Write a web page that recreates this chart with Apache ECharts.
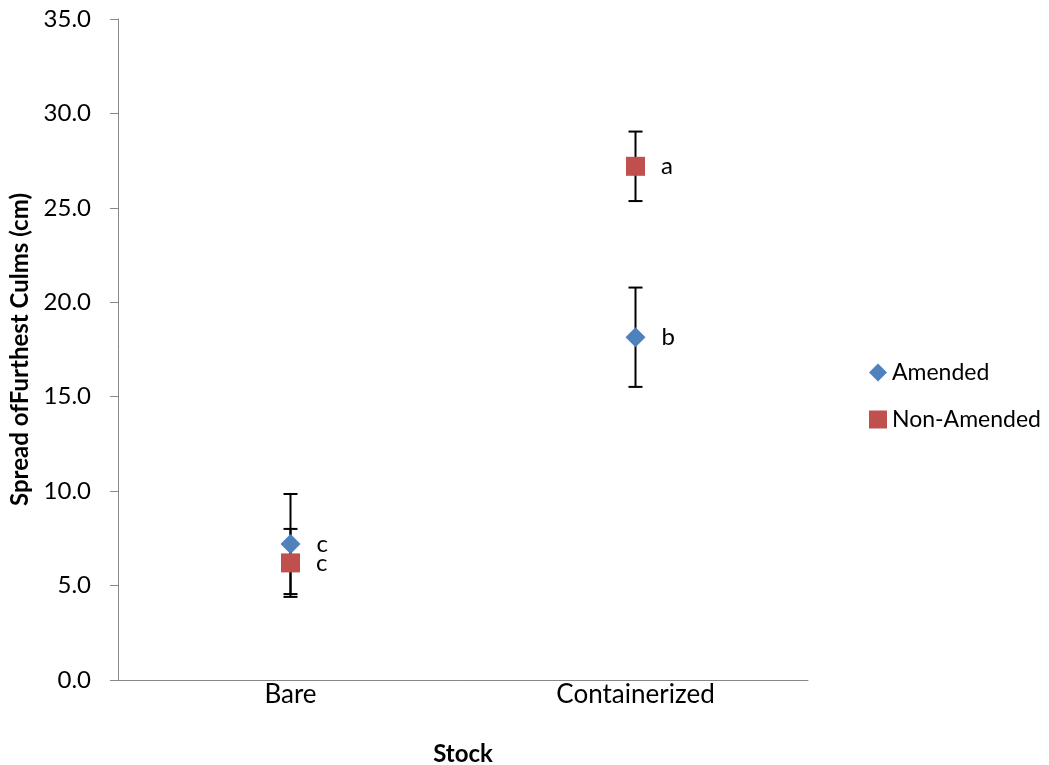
<!DOCTYPE html>
<html><head><meta charset="utf-8">
<script src="https://cdn.jsdelivr.net/npm/echarts@6/dist/echarts.min.js"></script>
<style>html,body{margin:0;padding:0;background:#fff}#c{width:1049px;height:765px}</style>
</head><body><div id="c"></div>
<script>
var categories = ['Bare', 'Containerized'];
var amended = [7.2, 18.15];
var amendedErr = [2.65, 2.63];
var amendedLetters = ['c', 'b'];
var nonAmended = [6.2, 27.2];
var nonAmendedErr = [1.8, 1.84];
var nonAmendedLetters = ['c', 'a'];
var yTicks = {min: 0, max: 35, interval: 5};

var FONT = 'Lato, "Open Sans", sans-serif';

function errData(vals, errs) {
  return vals.map(function (v, i) { return [i, v - errs[i], v + errs[i]]; });
}
function renderErr(params, api) {
  var x = api.value(0);
  var lo = api.coord([x, api.value(1)]);
  var hi = api.coord([x, api.value(2)]);
  var w = 7;
  var st = {stroke: '#000', lineWidth: 2};
  return {type: 'group', children: [
    {type: 'line', shape: {x1: lo[0], y1: lo[1], x2: hi[0], y2: hi[1]}, style: st},
    {type: 'line', shape: {x1: lo[0] - w, y1: lo[1], x2: lo[0] + w, y2: lo[1]}, style: st},
    {type: 'line', shape: {x1: hi[0] - w, y1: hi[1], x2: hi[0] + w, y2: hi[1]}, style: st}
  ]};
}

var chart = echarts.init(document.getElementById('c'));
chart.setOption({
  animation: false,
  backgroundColor: '#fff',
  grid: {left: 118, top: 19, width: 690, height: 661, containLabel: false, outerBoundsMode: 'none'},
  legend: {
    orient: 'vertical', left: 864, top: 356, itemGap: 24,
    itemWidth: 18, itemHeight: 18,
    textStyle: {fontFamily: FONT, fontSize: 23, color: '#000'},
    data: [{name: 'Amended', icon: 'diamond'}, {name: 'Non-Amended', icon: 'rect'}]
  },
  xAxis: {
    type: 'category', data: categories,
    axisLine: {lineStyle: {color: '#888', width: 1}},
    axisTick: {show: false},
    axisLabel: {fontFamily: FONT, fontSize: 26, color: '#000', margin: 2},
    name: 'Stock', nameLocation: 'middle', nameGap: 62,
    nameTextStyle: {fontFamily: FONT, fontSize: 24, fontWeight: 'bold', color: '#000'}
  },
  yAxis: {
    type: 'value', min: yTicks.min, max: yTicks.max, interval: yTicks.interval,
    splitLine: {show: false},
    axisLine: {show: true, lineStyle: {color: '#888', width: 1}},
    axisTick: {show: true, length: 8, lineStyle: {color: '#888'}},
    axisLabel: {fontFamily: FONT, fontSize: 24, color: '#000', margin: 27,
      formatter: function (v) { return v.toFixed(1); }},
    name: 'Spread ofFurthest Culms (cm)', nameLocation: 'middle', nameGap: 85,
    nameTextStyle: {fontFamily: FONT, fontSize: 24, fontWeight: 'bold', color: '#000'}
  },
  series: [
    {type: 'custom', name: 'errA', renderItem: renderErr, data: errData(amended, amendedErr), z: 1, silent: true,
      encode: {x: 0, y: [1, 2]}},
    {type: 'custom', name: 'errN', renderItem: renderErr, data: errData(nonAmended, nonAmendedErr), z: 1, silent: true,
      encode: {x: 0, y: [1, 2]}},
    {type: 'scatter', name: 'Amended', symbol: 'diamond', symbolSize: 20, z: 3,
      itemStyle: {color: '#4F81BD', opacity: 1},
      data: amended.map(function (v, i) { return {value: [i, v], label: {formatter: amendedLetters[i]}}; }),
      label: {show: true, position: 'right', distance: 16, fontFamily: FONT, fontSize: 24, color: '#000'}},
    {type: 'scatter', name: 'Non-Amended', symbol: 'rect', symbolSize: 19, z: 4,
      itemStyle: {color: '#C0504D', opacity: 1},
      data: nonAmended.map(function (v, i) { return {value: [i, v], label: {formatter: nonAmendedLetters[i]}}; }),
      label: {show: true, position: 'right', distance: 16, fontFamily: FONT, fontSize: 24, color: '#000'}}
  ]
});
</script></body></html>
